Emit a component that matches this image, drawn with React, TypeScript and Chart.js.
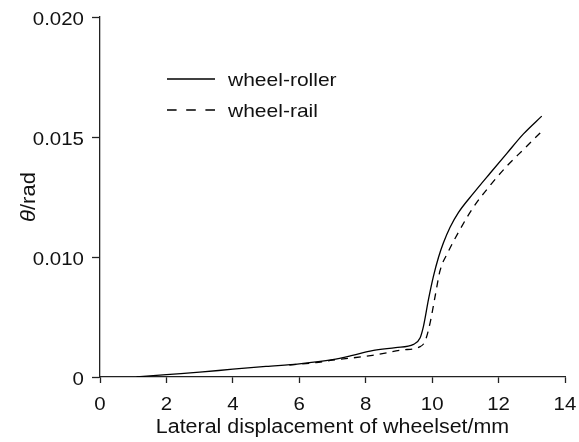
import React, { useEffect, useRef } from "react";
import { Chart, registerables, LinearScale } from "chart.js";

Chart.register(...registerables);

// ---- data (y in the units shown on the axis labels) ----
const rollerX = [1.1, 2, 3, 4, 5, 6, 7, 7.6, 8.2, 8.9, 9.44, 9.64, 9.74, 9.89, 10.04, 10.19, 10.34, 10.54, 10.79, 11.24, 11.75, 12.25, 12.75, 13.3];
const rollerY = [0, 0.0002, 0.0004, 0.00065, 0.00088, 0.0011, 0.00145, 0.0018, 0.0022, 0.00245, 0.00272, 0.00328, 0.00424, 0.00646, 0.0084, 0.00996, 0.01059, 0.01124, 0.01185, 0.01265, 0.0135, 0.01432, 0.01513, 0.01587];
const railX = [5.7, 6.5, 7.0, 8.2, 9.09, 9.64, 9.79, 9.94, 10.09, 10.24, 10.47, 10.84, 11.24, 11.75, 12.25, 12.75, 13.25];
const railY = [0.001, 0.0012, 0.0014, 0.0018, 0.00225, 0.00253, 0.003, 0.00453, 0.00674, 0.00888, 0.01018, 0.01115, 0.01207, 0.01299, 0.01379, 0.01448, 0.01517];

const xTicks = [0, 2, 4, 6, 8, 10, 12, 14];
const xTickLabels = ["0", "2", "4", "6", "8", "10", "12", "14"];
const yTicks = [0, 0.01, 0.015, 0.02];
const yTickLabels = ["0", "0.010", "0.015", "0.020"];
const seriesNames = ["wheel-roller", "wheel-rail"];
const xTitle = "Lateral displacement of wheelset/mm";

const FONT = "'Liberation Sans', Arial, Helvetica, sans-serif";
const INK = "#111";

// axis as printed: equal spacing between 0, 0.010, 0.015, 0.020
const toPos = (v: number) => (v <= 0.01 ? v / 2 : v - 0.005);
const fromPos = (p: number) => (p <= 0.005 ? p * 2 : p + 0.005);

class PiecewiseScale extends (LinearScale as any) {
  static id = "piecewise";
  static defaults = (LinearScale as any).defaults;
  getPixelForValue(value: number) {
    const self: any = this;
    const a = toPos(self.min);
    const b = toPos(self.max);
    return self.getPixelForDecimal((toPos(value) - a) / (b - a));
  }
  getValueForPixel(pixel: number) {
    const self: any = this;
    const a = toPos(self.min);
    const b = toPos(self.max);
    return fromPos(a + self.getDecimalForPixel(pixel) * (b - a));
  }
}
Chart.register(PiecewiseScale as any);

function drawText(ctx: CanvasRenderingContext2D, text: string, x: number, y: number, align: string, size: number, sx: number) {
  ctx.save();
  ctx.font = `${size}px ${FONT}`;
  ctx.fillStyle = INK;
  ctx.textBaseline = "alphabetic";
  ctx.textAlign = "left";
  const w = ctx.measureText(text).width * sx;
  const x0 = align === "center" ? x - w / 2 : align === "right" ? x - w : x;
  ctx.translate(x0, y);
  ctx.scale(sx, 1);
  ctx.fillText(text, 0, 0);
  ctx.restore();
}

const overlay = {
  id: "overlay",
  afterDraw(chart: any) {
    const ctx = chart.ctx;
    const xs = chart.scales.x;
    const ys = chart.scales.y;
    const ca = chart.chartArea;
    // tick labels
    xTicks.forEach((v, i) => drawText(ctx, xTickLabels[i], xs.getPixelForValue(v), 409.5, "center", 18.6, 1.1));
    yTicks.forEach((v, i) => drawText(ctx, yTickLabels[i], 84, ys.getPixelForValue(v) + 7.5, "right", 18.6, 1.1));
    // x title
    drawText(ctx, xTitle, (ca.left + ca.right) / 2, 432.5, "center", 20, 1.07);
    // y title: italic theta + /rad
    ctx.save();
    ctx.fillStyle = INK;
    ctx.translate(35, 197);
    ctx.rotate(-Math.PI / 2);
    ctx.scale(1.1, 1);
    const fI = `italic 20px ${FONT}`;
    const fN = `20px ${FONT}`;
    ctx.font = fI;
    const w1 = ctx.measureText("θ").width;
    ctx.font = fN;
    const w2 = ctx.measureText("/rad").width;
    const x0 = -(w1 + w2) / 2;
    ctx.textAlign = "left";
    ctx.textBaseline = "alphabetic";
    ctx.font = fI;
    ctx.fillText("θ", x0, 0);
    ctx.font = fN;
    ctx.fillText("/rad", x0 + w1, 0);
    ctx.restore();

    // legend
    ctx.save();
    ctx.strokeStyle = "#000";
    ctx.lineWidth = 1.3;
    ctx.beginPath();
    ctx.moveTo(167, 79);
    ctx.lineTo(215, 79);
    ctx.stroke();
    ctx.setLineDash([9.6, 9.6]);
    ctx.beginPath();
    ctx.moveTo(167, 110);
    ctx.lineTo(215, 110);
    ctx.stroke();
    ctx.restore();
    drawText(ctx, seriesNames[0], 228, 79 + 6.7, "left", 18.6, 1.13);
    drawText(ctx, seriesNames[1], 228, 110 + 6.7, "left", 18.6, 1.13);
  },
};

export default function App() {
  const ref = useRef<HTMLCanvasElement>(null);
  useEffect(() => {
    document.body.style.margin = "0";
    const chart = new Chart(ref.current!, {
      type: "line",
      data: {
        datasets: [
          {
            label: seriesNames[0],
            data: rollerX.map((x, i) => ({ x, y: rollerY[i] })),
            borderColor: "#000",
            borderWidth: 1.3,
            pointRadius: 0,
            cubicInterpolationMode: "monotone",
            fill: false,
          },
          {
            label: seriesNames[1],
            data: railX.map((x, i) => ({ x, y: railY[i] })),
            borderColor: "#000",
            borderWidth: 1.3,
            borderDash: [7, 6],
            pointRadius: 0,
            cubicInterpolationMode: "monotone",
            fill: false,
          },
        ],
      },
      options: {
        animation: false,
        responsive: false,
        layout: { padding: { top: 17, right: 14, left: 0, bottom: 0 } },
        plugins: { legend: { display: false }, tooltip: { enabled: false } },
        scales: {
          x: {
            type: "linear",
            min: 0,
            max: 14,
            afterBuildTicks: (s: any) => {
              s.ticks = xTicks.map((v) => ({ value: v }));
            },
            afterFit: (s: any) => {
              s.height = 65;
            },
            grid: { drawOnChartArea: false, drawTicks: true, tickLength: 6, color: "#222", tickWidth: 1.3 },
            border: { display: true, color: "#222", width: 1.3 },
            ticks: { display: false },
          },
          y: {
            type: "piecewise" as any,
            min: 0,
            max: 0.02,
            afterBuildTicks: (s: any) => {
              s.ticks = yTicks.map((v) => ({ value: v }));
            },
            afterFit: (s: any) => {
              s.width = 100;
            },
            grid: { drawOnChartArea: false, drawTicks: true, tickLength: 8, color: "#222", tickWidth: 1.3 },
            border: { display: true, color: "#222", width: 1.3 },
            ticks: { display: false },
          },
        },
      },
      plugins: [overlay],
    } as any);
    return () => chart.destroy();
  }, []);
  return (
    <div style={{ width: 579, height: 442 }}>
      <canvas ref={ref} width={579} height={442} style={{ width: 579, height: 442, display: "block" }} />
    </div>
  );
}
